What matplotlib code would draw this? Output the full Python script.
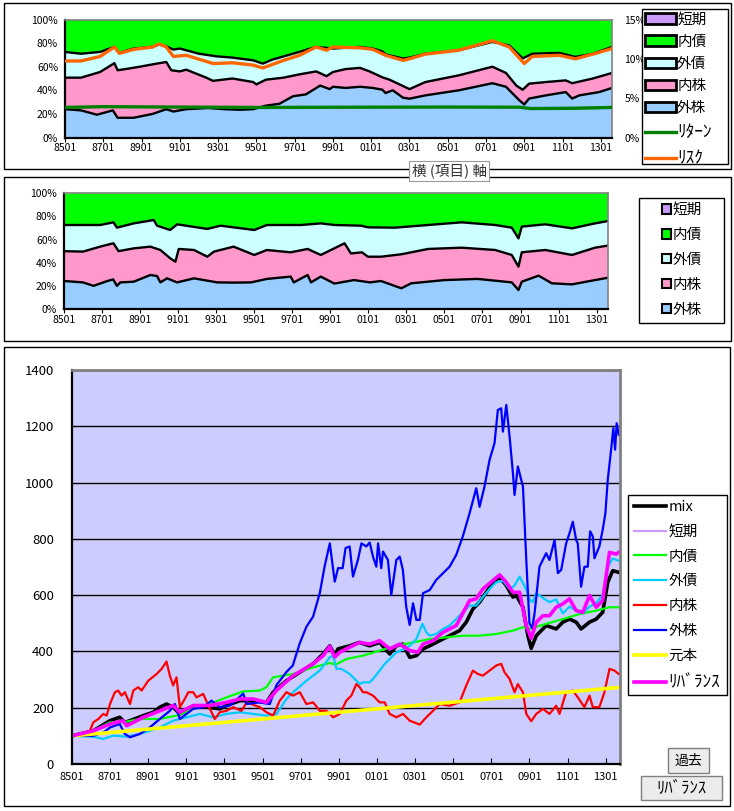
import matplotlib
matplotlib.use("Agg")
import matplotlib.pyplot as plt
from matplotlib.patches import Patch, Rectangle
from matplotlib.lines import Line2D
import numpy as np

plt.rcParams['font.family'] = ['Noto Sans CJK JP', 'DejaVu Sans']

# ---------------- DATA ----------------
# month index: 0 = 1985-01
xtick_months = [0, 24, 48, 72, 96, 120, 144, 168, 192, 216, 240, 264, 288, 312, 336]
xtick_labels = ["8501", "8701", "8901", "9101", "9301", "9501", "9701", "9901",
                "0101", "0301", "0501", "0701", "0901", "1101", "1301"]

asset_names = ["外株", "内株", "外債", "内債", "短期"]
asset_colors = ["#99CCFF", "#FF99CC", "#CCFFFF", "#00FF00", "#CC99FF"]
line_names_top = ["ﾘﾀｰﾝ", "ﾘｽｸ"]

# Top chart (no rebalance): cumulative stack boundaries (%), (month, value)
top_cum_gaikabu = [(0,24),(10,23),(20,19.3),(30,23),(33,16.7),(43,16.7),(55,20),(63.5,24),(68,22),(76,24),
                   (90,25),(100,24),(110,23.5),(118,24),(126,27),(134.5,28.6),(143,35),(151,36.5),(160,44),
                   (166,41),(168,43),(176,42),(185,43),(193,42),(199,40.5),(201,37.7),(205.5,40),(212,33.7),
                   (216,32.9),(226,35.7),(247,40),(268,46),(276.5,43),(285,31.4),(288,28),(291,33),
                   (301.6,35.7),(314,38.5),(318,33),(322.5,35.7),(335,38.5),(343,42)]
top_cum_naikabu = [(0,50.7),(10,50.7),(22,55.5),(31,63),(33,57),(38,58),(47,60),(55,62),(63.5,64),(66.6,57),
                   (72,56),(76,57.5),(88.6,50.7),(92.8,48),(105,50),(118,47),(120,45),(126,49),(137,50.7),
                   (147,53.5),(157.5,56),(164,52),(168,55.5),(176,58),(185,59),(191,56),(199,51),(203.5,49),
                   (216,41),(226,47),(247,52.7),(268,60),(276.5,54.7),(283,44),(287,40.5),(291,45.6),
                   (301.6,47),(314,48.4),(318,46),(331,50),(343,54.7)]
top_cum_gaisai = [(0,72.5),(10,71),(22,72.5),(31,76.8),(34,71.7),(43,75.4),(55,76.8),(59,78.8),(63.5,77.3),
                  (68,74.5),(72,75.4),(84,71),(95,68.8),(105,67.7),(118,65.4),(124,62.6),(130,66),(143,71),
                  (157.5,76.8),(168,75.4),(185,76.8),(193,75.4),(199,73),(201,70.5),(212,66.9),(216,67.7),
                  (226,71),(247,74),(268,81),(278.6,78),(287,67),(293,71),(310,71.7),(320,68.3),(331,71),
                  (343,76.8)]
# Top chart lines on secondary axis (%)
top_return = [(0,3.82),(24,3.92),(60,3.88),(120,3.82),(180,3.85),(240,3.87),(285,3.85),(292,3.68),
              (320,3.72),(343,3.82)]
top_risk = [(0,9.73),(10,9.73),(22,10.3),(31,11.5),(34,10.7),(43,11.2),(55,11.5),(59,11.9),(63.5,11.5),
            (68,10.3),(76,10.45),(93,9.4),(105,9.5),(118,9.2),(124,8.84),(137,9.8),(147,10.45),(157.5,11.5),
            (164,11.1),(168,11.5),(185,11.4),(193,11.2),(201,10.45),(212,9.8),(216,10.0),(226,10.6),
            (247,11.1),(268,12.3),(278.6,11.5),(288,9.4),(293,10.3),(310,10.45),(320,10.0),(331,10.6),
            (343,11.3)]

# Middle chart (rebalanced): cumulative stack boundaries (%)
mid_cum_gaikabu = [(0,24.2),(12,23),(18.6,20),(27,24),(31,25.6),(33.4,20),(35.5,23),(44,23.6),(54.5,29.4),
                   (58.7,28.5),(60.8,23),(65,26.5),(71.4,23),(82,26.5),(96.7,23),(107,22.8),(118,23),(128,26),
                   (143,28),(145,23),(153.7,29.4),(155.8,23),(162,28),(170.6,22),(183,25),(193,23),(200,24.2),
                   (212.8,17.9),(219,22.2),(240,25),(261,26),(282.5,23),(286.7,16.4),(288.8,23.6),(299.4,28.8),
                   (307.8,22.2),(320.5,21.3),(335,25),(343,27)]
mid_cum_naikabu = [(0,50),(12,49.6),(22.8,53.9),(31.2,56.8),(34.4,50),(44,52.4),(54.5,53.9),(60.8,51),(67,43.8),
                   (70.3,40.9),(72.4,51.9),(82,51),(90.4,45.2),(94.6,49.6),(107,53.9),(120,46.7),(128,51),
                   (143,49),(153.7,51.9),(162,46.7),(177,56.8),(181,48),(188,49),(191.7,45.2),(200,45.2),
                   (212.8,47.3),(229.7,51.9),(250.8,53),(272,51),(282.5,46.7),(286.7,36.6),(288.8,49),
                   (303.6,51),(320.5,46.7),(335,53),(343,54.8)]
mid_cum_gaisai = [(0,72.6),(22.8,72.6),(31.2,74.9),(33.4,70.3),(44,74),(56.6,76.9),(58.7,72),(67,68.3),
                  (71.4,73.2),(90.4,69.2),(98.8,72),(120,68.3),(128,72.6),(149.5,72.6),(162,74),(170.6,72.6),
                  (187.5,72),(191.7,70.6),(208.6,70.3),(229.7,72.6),(250.8,74.9),(272,72.6),(282.5,70.3),
                  (286.7,61),(288.8,71.2),(303.6,73.2),(320.5,69.7),(335,74),(343,76)]

# Bottom chart: cumulative value (start = 100)
line_mix = [(0,100),(13.4,118),(23.9,154),(30,166),(33.3,148),(36.5,154),(44.9,172),(51.2,184),(55.3,202),
            (59.5,213),(63.7,202),(67.9,178),(76.3,202),(84.7,202),(93.1,196),(97.3,208),(105.7,225),(114,225),
            (122.4,219),(126.6,255),(135,296),(143.4,326),(151.8,356),(158.1,391),(162.3,420),(165.4,387),
            (167.5,409),(174.8,420),(180.9,432),(187.4,420),(193.7,432),(200,391),(204.2,420),(208.4,426),
            (212.6,379),(216.8,385),(221,409),(225.2,420),(231.4,438),(237.7,456),(244,474),(248.2,504),
            (252.4,551),(256.6,575),(260.8,610),(265,646),(269.2,664),(273.4,634),(277.6,593),(279.7,599),
            (283.9,557),(287,456),(289.1,411),(292.3,456),(298.5,492),(304.8,480),(309,504),(313.2,515),
            (317.4,504),(320.5,480),(325.8,504),(330,515),(334.1,539),(337.3,646),(340.4,687),(344.2,681)]
line_tanki = []  # not visible in the reference
line_naisai = [(0,100),(13.4,118),(23.9,148),(32,148),(42.8,160),(55.3,160),(65.8,172),(76.3,196),(86.8,213),
               (97.3,237),(107.8,258),(118.2,261),(122.4,273),(126.6,308),(139.2,320),(151.8,343),(160.2,356),
               (162.3,359),(166,353),(172.7,373),(183.2,385),(193.7,403),(204.2,420),(214.7,432),(225.2,444),
               (235.6,450),(246,456),(256.6,456),(267.1,462),(277.6,474),(283.9,486),(288,480),(298.5,498),
               (309,515),(319.5,533),(330,545),(338.4,557),(344.2,557)]
line_gaisai = [(0,100),(13.4,97),(19.7,89),(26,101),(34.4,97),(42.8,107),(49,118),(55.3,130),(63.7,154),
               (72.1,166),(80.5,178),(88.9,166),(97.3,178),(105.7,184),(114,178),(122.4,172),(128.7,178),
               (135,231),(139.2,255),(147.6,296),(156,332),(162.3,379),(164.4,385),(166.5,338),(169.6,338),
               (174.8,320),(181.1,284),(183.2,290),(187.4,290),(189.5,302),(193.7,332),(196.9,356),(200,373),
               (204.2,397),(209.4,409),(212.6,420),(216.8,444),(220.6,498),(223.1,468),(225.2,456),(229.3,462),
               (233.6,480),(237.7,492),(241.9,515),(246,539),(250.3,563),(254.5,563),(258.7,593),(262.9,622),
               (267.1,646),(271.3,651),(275.5,622),(278.6,634),(281.8,666),(286,620),(288,585),(290,575),
               (292.3,607),(296.5,590),(300.6,575),(304.8,585),(309,535),(313.2,559),(317.4,545),(321.6,535),
               (325.8,559),(330,572),(334.1,600),(337.3,701),(340.4,730),(344.2,722)]
line_naikabu = [(0,100),(11.3,118),(13.4,148),(16.6,160),(19.7,178),(21.8,172),(23.9,213),(27,255),(29.1,261),
                (31.2,243),(33.3,255),(36.5,213),(38.6,261),(41.7,273),(43.8,261),(48,296),(53.3,320),(56.4,338),
                (59.5,364),(61.6,314),(63.7,279),(65.8,308),(67.9,202),(70.4,225),(73.2,255),(76.3,255),
                (78.4,237),(82.6,249),(86.8,196),(89.9,160),(93.1,184),(97.3,189),(101.5,202),(106.7,189),
                (109.9,219),(118.2,202),(122.4,184),(126.6,172),(130.8,225),(135,255),(139.2,243),(143.4,255),
                (147.6,213),(151.8,219),(156,189),(160.2,189),(164.4,166),(168.6,178),(172.7,225),(175.9,243),
                (179,284),(181.1,273),(183.2,255),(185.3,255),(189.5,243),(193.7,219),(196.9,219),(200,178),
                (204.2,166),(208.4,178),(212.6,154),(218.9,140),(223.1,166),(227.3,189),(231.4,213),(237.7,207),
                (244,219),(248.2,279),(252.4,332),(255.5,320),(258.7,314),(262.9,332),(267.1,350),(270.2,356),
                (272.3,326),(275.5,302),(278.6,255),(280.7,284),(283.9,255),(286,178),(289.1,152),(292.3,178),
                (296.5,196),(300.6,178),(304.8,207),(306.9,178),(311.1,255),(315.3,261),(318.4,237),(322.6,202),
                (325.8,243),(327.9,202),(332,202),(335.2,255),(338.4,338),(341.5,332),(344.2,320)]
line_gaikabu = [(0,100),(13.4,100),(19.7,112),(24,130),(30,142),(33.3,107),(36.5,95),(42.8,107),(49,130),
                (55.3,160),(61.6,189),(64.8,213),(67.9,160),(76.3,196),(82.6,202),(87.8,225),(93,202),(99.4,208),
                (107.8,250),(110,213),(118,219),(124.5,213),(128.7,280),(135,327),(139,350),(143.4,429),
                (147.6,488),(151.8,524),(156,607),(159,701),(162.3,784),(165.4,648),(167.5,696),(170.4,696),
                (172.2,767),(174.8,773),(176.9,666),(180,725),(182.2,784),(185.3,773),(187.4,787),(189.5,737),
                (191.6,701),(192.7,784),(194.7,696),(195.8,755),(198.9,725),(201,601),(204.2,725),(206.3,737),
                (208.3,690),(210.4,559),(212.6,494),(214.7,571),(216.8,512),(218.9,512),(221,607),(225.2,618),
                (229.3,654),(233.6,678),(237.7,701),(241.9,743),(246,808),(250.3,891),(254.5,980),(256.6,914),
                (259.7,986),(262.9,1081),(266,1140),(268.1,1258),(270.2,1264),(271.3,1181),(273.4,1276),
                (275.5,1163),(277.6,1033),(278.6,956),(280.7,1057),(283.9,986),(286,725),(288,500),(289.7,482),
                (291.2,535),(294.3,701),(298.5,749),(300.6,725),(303.8,796),(305.9,678),(308,690),(311.1,784),
                (313.2,820),(315.3,861),(317.4,796),(318.4,784),(320.5,630),(322.6,701),(324.7,701),(326.2,827),
                (327.9,808),(328.9,731),(332,773),(334.1,832),(335.8,891),(337.3,1010),(339.4,1117),(340.8,1193),
                (341.9,1117),(342.9,1211),(344.2,1170)]
line_ganpon = [(0,100),(344.2,272)]
line_rebal = [(0,100),(13.4,118),(23.9,142),(32.2,154),(34.4,136),(44.9,166),(55.3,189),(63.7,208),(67.9,184),
              (76.3,208),(86.8,208),(97.3,219),(105.7,231),(114,231),(122.4,219),(128.7,261),(139.2,314),
              (151.8,356),(158.1,385),(162.3,418),(165.4,380),(168.6,397),(174.8,415),(181.1,432),(187.4,426),
              (193.7,438),(200,409),(206.3,426),(212.6,403),(217.8,397),(221,426),(227.3,438),(233.6,468),
              (241.9,492),(250.3,581),(254.5,587),(258.7,622),(265,652),(269.2,672),(273.4,646),(277.6,610),
              (281.8,610),(286,492),(289.1,447),(292.3,504),(296.5,527),(300.6,527),(304.8,557),(309,569),
              (313.2,587),(317.4,545),(321.6,539),(325.8,599),(330,557),(334.1,581),(338.4,752),(342.6,746),
              (344.2,752)]

bottom_series = [
    ("mix", line_mix, "#000000", 2.6),
    ("短期", line_tanki, "#CC99FF", 1.6),
    ("内債", line_naisai, "#00FF00", 1.6),
    ("外債", line_gaisai, "#00CCFF", 1.6),
    ("内株", line_naikabu, "#FF0000", 1.6),
    ("外株", line_gaikabu, "#0000FF", 1.6),
    ("元本", line_ganpon, "#FFFF00", 2.6),
    ("ﾘﾊﾞﾗﾝｽ", line_rebal, "#FF00FF", 2.6),
]
button_labels = ["過去", "ﾘﾊﾞﾗﾝｽ"]

# ---------------- LAYOUT ----------------
W, H = 734, 811
fig = plt.figure(figsize=(W/100, H/100), dpi=100)
fig.patch.set_facecolor("white")

def add_ax(l, t, r, b):
    return fig.add_axes([l/W, 1 - b/H, (r - l)/W, (b - t)/H])

def rect(l, t, r, b, fc="none", ec="black", lw=1.0, z=0):
    fig.patches.append(Rectangle((l/W, 1 - b/H), (r - l)/W, (b - t)/H, transform=fig.transFigure,
                                 facecolor=fc, edgecolor=ec, linewidth=lw, zorder=z))

def xy(pairs):
    a = np.array(pairs, dtype=float)
    return a[:, 0], a[:, 1]

def is_halfwidth(s):
    return all(0xFF61 <= ord(c) <= 0xFF9F for c in s)

def enlarge_halfwidth(leg, size):
    for t in leg.get_texts():
        if is_halfwidth(t.get_text()):
            t.set_fontsize(size)

rect(4, 3, 731, 169)
rect(4, 177, 731, 341)
rect(4, 347, 730, 806)

def stack_chart(ax, b1, b2, b3):
    x1, y1 = xy(b1); x2, y2 = xy(b2); x3, y3 = xy(b3)
    ax.fill_between(x1, 0, y1, facecolor=asset_colors[0], linewidth=0)
    ax.fill(np.concatenate([x2, x1[::-1]]), np.concatenate([y2, y1[::-1]]), facecolor=asset_colors[1], linewidth=0)
    ax.fill(np.concatenate([x3, x2[::-1]]), np.concatenate([y3, y2[::-1]]), facecolor=asset_colors[2], linewidth=0)
    ax.fill_between(x3, y3, 100, facecolor=asset_colors[3], linewidth=0)
    for xx, yy in [(x1, y1), (x2, y2), (x3, y3)]:
        ax.plot(xx, yy, color="black", linewidth=1.7, solid_joinstyle="round")
    ax.set_xlim(0, 343)
    ax.set_ylim(0, 100)
    ax.set_yticks([0, 20, 40, 60, 80, 100])
    ax.set_yticklabels([f"{v}%" for v in [0, 20, 40, 60, 80, 100]])
    ax.set_xticks(xtick_months)
    ax.set_xticklabels(xtick_labels)
    ax.tick_params(axis="y", length=0, pad=5, labelsize=7.5)
    ax.tick_params(axis="x", length=3, direction="out", pad=1, labelsize=7.5)
    for s in ["left", "bottom"]:
        ax.spines[s].set_linewidth(1.6)
        ax.spines[s].set_color("black")
    for s in ["top", "right"]:
        ax.spines[s].set_linewidth(1.2)
        ax.spines[s].set_color("#808080")

# Top chart
ax1 = add_ax(65, 19.5, 612, 137.5)
stack_chart(ax1, top_cum_gaikabu, top_cum_naikabu, top_cum_gaisai)
ax1b = ax1.twinx()
rx, ry = xy(top_return)
kx, ky = xy(top_risk)
ax1b.plot(rx, ry, color="#008000", linewidth=2.4)
ax1b.plot(kx, ky, color="#FF6600", linewidth=2.4)
ax1b.set_ylim(0, 15)
ax1b.set_yticks([0, 5, 10, 15])
ax1b.set_yticklabels(["0%", "5%", "10%", "15%"])
ax1b.tick_params(axis="y", length=0, pad=9, labelsize=7.5)
for s in ax1b.spines.values():
    s.set_visible(False)

# Top legend (frame drawn separately)
rect(642, 9.5, 728, 164, fc="white", ec="black", lw=1.0, z=5)
top_handles = [Patch(facecolor=asset_colors[i], edgecolor="black", linewidth=2) for i in [4, 3, 2, 1, 0]]
top_handles += [Line2D([], [], color="#008000", linewidth=2.4), Line2D([], [], color="#FF6600", linewidth=2.4)]
top_labels = [asset_names[i] for i in [4, 3, 2, 1, 0]] + line_names_top
leg1 = fig.legend(top_handles, top_labels, loc="upper left", bbox_to_anchor=(645/W, 1 - 12.5/H),
                  bbox_transform=fig.transFigure, frameon=False, fontsize=10.5, handlelength=2.1,
                  handleheight=0.7, handletextpad=0.1, labelspacing=0.56, borderpad=0.0, borderaxespad=0)
enlarge_halfwidth(leg1, 12.5)
leg1.set_zorder(10)

# Middle chart
ax2 = add_ax(64, 193.3, 607.7, 309)
stack_chart(ax2, mid_cum_gaikabu, mid_cum_naikabu, mid_cum_gaisai)
rect(639, 197.7, 724, 322.7, fc="white", ec="black", lw=1.0, z=5)
mid_handles = [Patch(facecolor=asset_colors[i], edgecolor="black", linewidth=1.5) for i in [4, 3, 2, 1, 0]]
mid_labels = [asset_names[i] for i in [4, 3, 2, 1, 0]]
leg2 = fig.legend(mid_handles, mid_labels, loc="center", bbox_to_anchor=(682/W, 1 - 260/H),
                  bbox_transform=fig.transFigure, frameon=False, fontsize=10.5, handlelength=0.6,
                  handleheight=0.6, handletextpad=0.15, labelspacing=0.75, borderpad=0.0, borderaxespad=0)
leg2.set_zorder(10)

# Tooltip label
fig.text(449/W, 1 - 171/H, "横 (項目) 軸", ha="center", va="center", fontsize=10.5, color="#333333",
         bbox=dict(boxstyle="square,pad=0.2", facecolor="white", edgecolor="#999999", linewidth=0.8),
         zorder=20)

# Bottom chart
ax3 = add_ax(72, 370, 620, 764)
ax3.set_facecolor("#CCCCFF")
for name, pairs, color, lw in bottom_series:
    if pairs:
        x, y = xy(pairs)
        ax3.plot(x, y, color=color, linewidth=lw, label=name, solid_joinstyle="round")
    else:
        ax3.plot([], [], color=color, linewidth=lw, label=name)
ax3.set_xlim(0, 345)
ax3.set_ylim(0, 1400)
ax3.set_yticks(range(0, 1401, 200))
ax3.yaxis.grid(True, color="black", linewidth=1.0)
ax3.set_axisbelow(True)
ax3.set_xticks(xtick_months)
ax3.set_xticklabels(xtick_labels)
ax3.tick_params(axis="y", length=0, pad=13, labelsize=9.5)
ax3.tick_params(axis="x", length=4, direction="in", pad=6, labelsize=8)
for s in ["left", "bottom"]:
    ax3.spines[s].set_linewidth(1.6)
    ax3.spines[s].set_color("black")
for s in ["top", "right"]:
    ax3.spines[s].set_linewidth(2)
    ax3.spines[s].set_color("#808080")

rect(628, 495, 727, 695, fc="white", ec="black", lw=1.0, z=5)
h3, l3 = ax3.get_legend_handles_labels()
leg3 = fig.legend(h3, l3, loc="upper left", bbox_to_anchor=(634/W, 1 - 500/H),
                  bbox_transform=fig.transFigure, frameon=False, fontsize=10.5, handlelength=2.2,
                  handletextpad=0.15, labelspacing=0.74, borderpad=0.0, borderaxespad=0)
enlarge_halfwidth(leg3, 12.5)
leg3.set_zorder(10)

# Buttons
def button(l, t, r, b, label):
    rect(l, t, r, b, fc="#ECECEC", ec="#7F7F7F", lw=1.0, z=5)
    fs = 12 if is_halfwidth(label) else 10
    fig.text((l + r) / 2 / W, 1 - (t + b) / 2 / H, label, ha="center", va="center", fontsize=fs, zorder=6)

button(668, 748, 709, 773, button_labels[0])
button(641, 776, 722, 800, button_labels[1])

fig.savefig("out.png", dpi=100)
